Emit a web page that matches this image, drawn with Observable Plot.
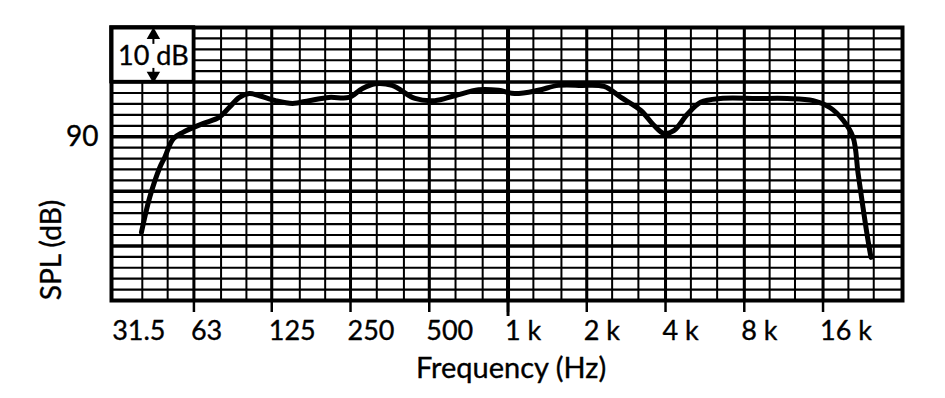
<!DOCTYPE html>
<html>
<head>
<meta charset="utf-8">
<script src="https://cdn.jsdelivr.net/npm/d3@7"></script>
<script src="https://cdn.jsdelivr.net/npm/@observablehq/plot@0.6"></script>
<style>
  html, body { margin: 0; padding: 0; background: #fff; }
  #chart svg { display: block; }
</style>
</head>
<body>
<div id="chart"></div>
<script>
// ---- data ----
const freqHz = [39.7, 42.7, 46.7, 48.7, 52.5, 57.2, 68.2, 78.9, 86.1, 94.0, 102.6, 112.1, 129.3, 150.1, 173.6, 207, 246.5, 277, 310.6, 360.4, 441, 525, 625, 772, 920, 1059, 1305, 1557, 1904, 2328, 2702, 3219, 3610, 3941, 4303, 4865, 5450, 6495, 9000, 11680, 14680, 17040, 19100, 20840, 21780, 22750, 23770, 24400];
const splDb  = [72.5, 78.9, 84.4, 86.2, 89.6, 90.8, 92.4, 93.6, 95.4, 97.2, 97.9, 97.5, 96.6, 96.1, 96.6, 97.2, 97.2, 98.8, 99.7, 99.4, 97.0, 96.6, 97.5, 98.6, 98.5, 97.9, 98.5, 99.4, 99.4, 99.2, 97.2, 94.8, 92.1, 90.6, 91.1, 94.2, 96.3, 97.0, 97.0, 97.0, 96.6, 95.3, 93.0, 89.9, 83.3, 77.0, 71.0, 67.9];

const octaveHz = [31.5, 63, 125, 250, 500, 1000, 2000, 4000, 8000, 16000];
const tickLabels = ["31.5", "63", "125", "250", "500", "1 k", "2 k", "4 k", "8 k", "16 k"];
const thirdOctaveHz = [40, 50, 63, 80, 100, 125, 160, 200, 250, 315, 400, 500, 630, 800, 1000, 1250, 1600, 2000, 2500, 3150, 4000, 5000, 6300, 8000, 10000, 12500, 16000, 20000, 25000];
const minorDb = [62, 64, 66, 68, 72, 74, 76, 78, 82, 84, 86, 88, 92, 94, 96, 98, 102, 104, 106, 108];
const majorDb = [70, 80, 90, 100];
const yTickDb = [90];
const xDomain = [30.5, 32200];
const yDomain = [60, 110];
// scale-legend box: spans 31.5–63 Hz, 100–110 dB
const boxHz = [30.5, 63];
const boxDb = [100, 110];
const boxMidHz = 44.1;

const data = freqHz.map((f, i) => ({f, db: splDb[i]}));
const tickData = octaveHz.map((f, i) => ({f, label: tickLabels[i]}));
const FONT = "Lato, 'Open Sans', sans-serif";
const TXT = {fill: "black", stroke: "black", strokeWidth: 0.35};

const chart = Plot.plot({
  width: 945,
  height: 398,
  marginTop: 27,
  marginLeft: 111,
  marginRight: 43,
  marginBottom: 98,
  x: {type: "log", domain: xDomain},
  y: {domain: yDomain, axis: null},
  style: {fontFamily: FONT, background: "white", color: "black"},
  marks: [
    Plot.ruleX(thirdOctaveHz, {stroke: "black", strokeWidth: 2}),
    Plot.ruleX(octaveHz.slice(1), {stroke: "black", strokeWidth: 3}),
    Plot.ruleX([1000], {stroke: "black", strokeWidth: 4}),
    Plot.ruleY(minorDb, {stroke: "black", strokeWidth: 2.2}),
    Plot.ruleY(majorDb, {stroke: "black", strokeWidth: 3.5}),
    Plot.rect([0], {x1: () => boxHz[0], x2: () => boxHz[1], y1: () => boxDb[0], y2: () => boxDb[1], fill: "white", stroke: "black", strokeWidth: 3.5}),
    Plot.text(["10 dB"], {x: () => boxMidHz, y: () => (boxDb[0] + boxDb[1]) / 2, fontSize: 27, dy: 2, ...TXT}),
    Plot.link([0], {x1: () => boxMidHz, x2: () => boxMidHz, y1: () => 108.6, y2: () => 107.0, stroke: "black", strokeWidth: 2}),
    Plot.link([0], {x1: () => boxMidHz, x2: () => boxMidHz, y1: () => 102.6, y2: () => 101.2, stroke: "black", strokeWidth: 2}),
    Plot.dot([0], {x: () => boxMidHz, y: () => 108.6, symbol: "triangle", r: 5, fill: "black", stroke: "none"}),
    Plot.dot([0], {x: () => boxMidHz, y: () => 101.2, symbol: "triangle", r: 5, fill: "black", stroke: "none", rotate: 180}),
    Plot.line(data, {x: "f", y: "db", stroke: "black", strokeWidth: 5, curve: "catmull-rom"}),
    Plot.frame({stroke: "black", strokeWidth: 4}),
    Plot.axisX(octaveHz.slice(1), {tickSize: 12, strokeWidth: 2.5, tickFormat: () => "", label: null}),
    Plot.axisX([1000], {tickSize: 16, strokeWidth: 3, tickFormat: () => "", label: null}),
    Plot.text(tickData, {x: "f", text: "label", frameAnchor: "bottom", dy: 20, dx: -3, lineAnchor: "top", textAnchor: "start", fontSize: 27, ...TXT}),
    Plot.text(yTickDb, {y: d => d, text: d => String(d), frameAnchor: "left", textAnchor: "end", dx: -13, lineAnchor: "middle", fontSize: 28, ...TXT}),
    Plot.text(["Frequency (Hz)"], {frameAnchor: "bottom", textAnchor: "middle", dx: 4, dy: 68, lineAnchor: "middle", fontSize: 29, ...TXT}),
    Plot.text(["SPL (dB)"], {frameAnchor: "left", textAnchor: "middle", rotate: -90, dx: -59, dy: 86, lineAnchor: "middle", fontSize: 28, ...TXT})
  ]
});
document.getElementById("chart").appendChild(chart);
</script>
</body>
</html>
